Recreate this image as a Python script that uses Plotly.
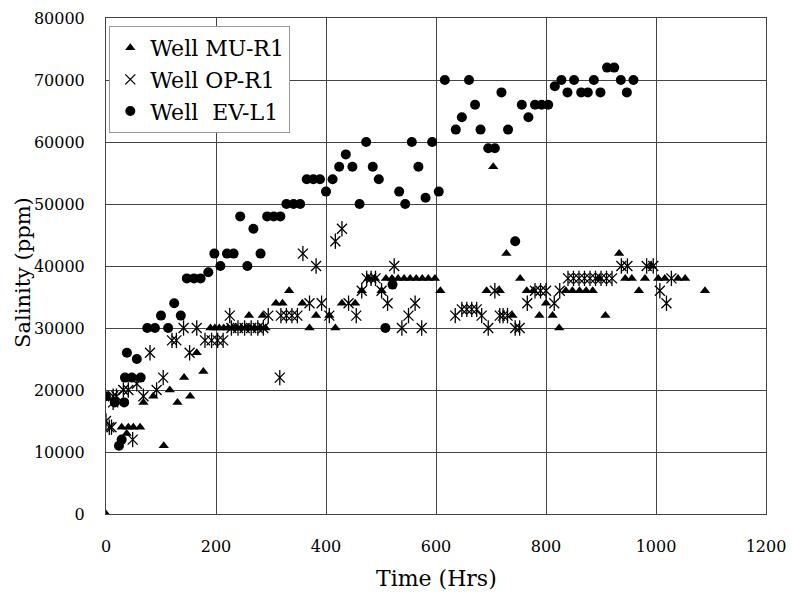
import plotly.graph_objects as go

# Well MU-R1 salinity readings (time in hours, salinity in ppm)
mu_time = [0, 28.5, 40.6, 49.7, 62, 37.6, 105, 68, 130, 86, 153, 116, 142, 165, 177,
           190, 198, 206, 214, 222, 230, 238, 246, 254, 262, 270, 280, 290,
           260, 285, 309, 321, 333, 357, 370, 382, 406, 417, 429, 453, 465, 477, 489, 501,
           509, 520, 531, 542, 553, 564, 575, 586, 598, 608, 692, 716, 704, 728, 739, 753,
           765, 777, 788, 812, 800, 824, 836, 848, 861, 873, 885, 897, 908, 933, 944, 956,
           969, 980, 992, 1004, 1016, 1040, 1053, 1089]
mu_salinity = [0, 14000, 14000, 14000, 14000, 13000, 11000, 18000, 18000, 19000, 19000, 20000, 22000, 26000, 23000,
               30000, 30000, 30000, 30000, 30000, 30000, 30000, 30000, 30000, 30000, 30000, 30000, 30000,
               32000, 32000, 34000, 34000, 36000, 34000, 30000, 32000, 32000, 30000, 34000, 34000, 36000, 38000, 38000, 36000,
               38000, 38000, 38000, 38000, 38000, 38000, 38000, 38000, 38000, 36000, 36000, 36000, 56000, 42000, 32000, 38000,
               36000, 36000, 32000, 32000, 34000, 30000, 36000, 36000, 36000, 36000, 36000, 38000, 32000, 42000, 38000, 38000,
               36000, 38000, 40000, 38000, 38000, 38000, 38000, 36000]

# Well OP-R1 salinity readings
op_time = [0, 6, 10, 13, 13, 19, 31.5, 40.6, 48.5, 56, 68, 80, 92, 104, 120, 128,
           141, 152, 165, 180, 192, 203, 213, 225, 228, 240, 252, 264, 276, 286, 295, 316,
           318, 328, 338, 348, 358, 370, 382, 392, 406, 417, 429, 441, 455, 465, 474, 482, 490,
           501, 512, 524, 538, 550, 562, 574, 635, 647, 656, 665, 674, 683, 695, 707,
           716, 722, 730, 744, 752, 766, 780, 790, 800, 815, 825,
           840, 850, 860, 870, 880, 890, 900, 910, 920, 937, 948, 983, 995, 1007, 1019, 1028]
op_salinity = [15000, 14000, 14000, 18000, 19000, 19000, 20000, 20000, 12000, 21000, 19000, 26000, 20000, 22000, 28000, 28000,
               30000, 26000, 30000, 28000, 28000, 28000, 28000, 32000, 30000, 30000, 30000, 30000, 30000, 30000, 32000, 22000,
               32000, 32000, 32000, 32000, 42000, 34000, 40000, 34000, 32000, 44000, 46000, 34000, 32000, 36000, 38000, 38000, 38000,
               36000, 34000, 40000, 30000, 32000, 34000, 30000, 32000, 33000, 33000, 33000, 33000, 32000, 30000, 36000,
               32000, 32000, 32000, 30000, 30000, 34000, 36000, 36000, 36000, 34000, 36000,
               38000, 38000, 38000, 38000, 38000, 38000, 38000, 38000, 38000, 40000, 40000, 40000, 40000, 36000, 34000, 38000]

# Well EV-L1 salinity readings
ev_time = [0, 16, 33, 23.6, 28.5, 34.5, 47, 63, 38, 56, 75, 89, 113, 100, 136, 124,
           147, 160, 172, 186, 197, 220, 232, 208, 257, 244, 268, 281, 293, 305, 317,
           328, 341, 353, 365, 377, 389, 400, 412, 424, 448, 436, 461, 473, 485, 496,
           508, 521, 533, 544, 556, 568, 581, 593, 605, 616, 636, 647, 660, 671, 681,
           695, 707, 719, 731, 744, 756, 768, 780, 792, 804, 816, 828, 839, 851,
           864, 876, 887, 899, 911, 924, 936, 947, 959]
ev_salinity = [19000, 18000, 18000, 11000, 12000, 22000, 22000, 22000, 26000, 25000, 30000, 30000, 30000, 32000, 32000, 34000,
               38000, 38000, 38000, 39000, 42000, 42000, 42000, 40000, 40000, 48000, 46000, 42000, 48000, 48000, 48000,
               50000, 50000, 50000, 54000, 54000, 54000, 52000, 54000, 56000, 56000, 58000, 50000, 60000, 56000, 54000,
               30000, 37000, 52000, 50000, 60000, 56000, 51000, 60000, 52000, 70000, 62000, 64000, 70000, 66000, 62000,
               59000, 59000, 68000, 62000, 44000, 66000, 64000, 66000, 66000, 66000, 69000, 70000, 68000, 70000,
               68000, 68000, 70000, 68000, 72000, 72000, 70000, 68000, 70000]

x_ticks = [0, 200, 400, 600, 800, 1000, 1200]
y_ticks = [0, 10000, 20000, 30000, 40000, 50000, 60000, 70000, 80000]

SERIF = "DejaVu Serif, serif"
INK = "black"

fig = go.Figure()

fig.add_trace(go.Scatter(
    x=mu_time, y=mu_salinity, mode="markers", name="Well MU-R1",
    marker=dict(symbol="triangle-up", size=9, color=INK, line=dict(width=0)),
))
fig.add_trace(go.Scatter(
    x=op_time, y=op_salinity, mode="markers", name="Well OP-R1", legendgroup="op",
    marker=dict(symbol="x-thin-open", size=10, color=INK, line=dict(width=1.3, color=INK)),
))
fig.add_trace(go.Scatter(
    x=op_time, y=op_salinity, mode="markers", name="Well OP-R1", legendgroup="op",
    showlegend=False,
    marker=dict(symbol="line-ns-open", size=11, color=INK, line=dict(width=1.3, color=INK)),
))
fig.add_trace(go.Scatter(
    x=ev_time, y=ev_salinity, mode="markers", name="Well\u00a0\u00a0EV-L1",
    marker=dict(symbol="circle", size=10, color=INK, line=dict(width=0)),
))

axis_common = dict(
    showgrid=True, gridcolor="#444444", gridwidth=1,
    showline=True, linecolor="#444444", linewidth=1, mirror=True,
    zeroline=False, ticks="", automargin=False,
    tickfont=dict(family=SERIF, size=16, color=INK),
)

fig.update_xaxes(
    range=[0, 1200], tickvals=x_ticks, ticktext=[str(v) for v in x_ticks],
    ticklabelstandoff=18, **axis_common,
)
fig.update_yaxes(
    range=[0, 80000], tickvals=y_ticks, ticktext=[str(v) for v in y_ticks],
    ticklabelstandoff=17, **axis_common,
)

# Axis titles placed as paper-anchored text
fig.add_annotation(
    text="Time (Hrs)", xref="paper", yref="paper", x=0.5, y=-0.13,
    xanchor="center", yanchor="middle", showarrow=False,
    font=dict(family=SERIF, size=22, color=INK),
)
fig.add_annotation(
    text="Salinity (ppm)", xref="paper", yref="paper", x=-0.125, y=0.487,
    xanchor="center", yanchor="middle", showarrow=False, textangle=-90,
    font=dict(family=SERIF, size=21, color=INK),
)

fig.update_layout(
    width=793, height=598,
    margin=dict(l=106, r=27, t=18, b=84),
    paper_bgcolor="white", plot_bgcolor="white",
    showlegend=True,
    legend=dict(
        x=0.005, y=0.984, xanchor="left", yanchor="top",
        bgcolor="white", bordercolor="#999999", borderwidth=1,
        font=dict(family=SERIF, size=22, color=INK),
        itemsizing="trace", tracegroupgap=0, itemwidth=30,
    ),
)

fig.write_html("out.html")
